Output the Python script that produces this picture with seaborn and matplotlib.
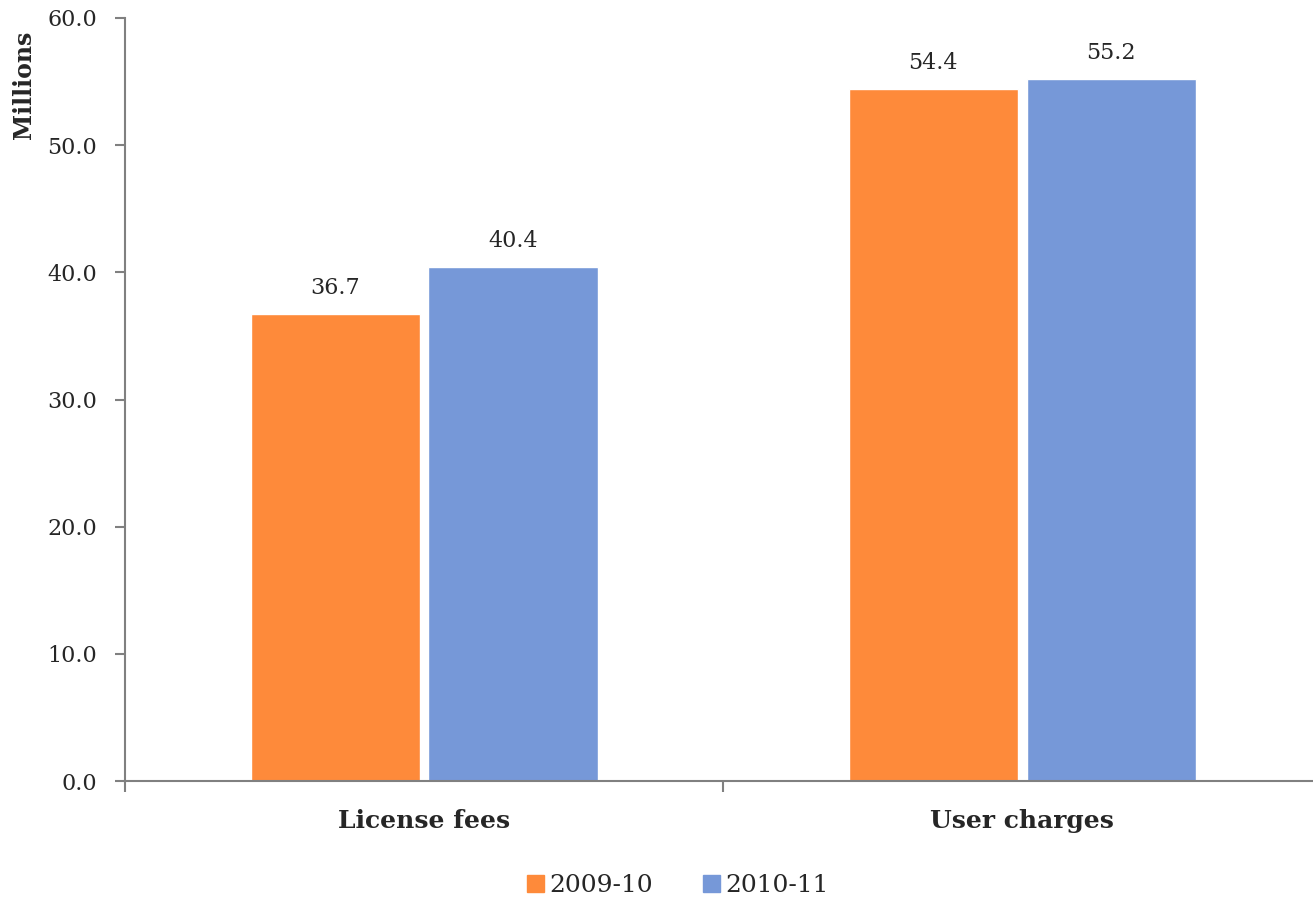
import matplotlib
matplotlib.use('Agg')
from matplotlib import pyplot as plt
from matplotlib.ticker import FixedLocator, FormatStrFormatter
import seaborn as sns
import pandas as pd

# 数据
categories = ['License fees', 'User charges']
years = ['2009-10', '2010-11']
values_0910 = [36.7, 54.4]
values_1011 = [40.4, 55.2]
colors = ['#FE8A3A', '#7698D8']

# 组装长表
df = pd.DataFrame({
    'category': categories * 2,
    'year': [years[0]] * 2 + [years[1]] * 2,
    'value': values_0910 + values_1011,
})

sns.set_theme(style='white')
plt.rcParams['font.family'] = ['DejaVu Serif']

fig = plt.figure(figsize=(13.13, 9), dpi=100)
ax = fig.add_axes([0.0952, 0.1322, 0.911, 0.8478])

sns.barplot(data=df, x='category', y='value', hue='year', palette=colors,
            width=0.595, gap=0.05, ax=ax, legend=False, saturation=1)

# 数值标签
for cont in ax.containers:
    ax.bar_label(cont, fmt='%.1f', padding=11, fontsize=16)

ax.set_xlim(-0.5, 1.5)
ax.set_ylim(0, 60)
ax.set_yticks(range(0, 61, 10))
ax.yaxis.set_major_formatter(FormatStrFormatter('%.1f'))
ax.tick_params(axis='y', labelsize=16, length=7, width=1.5, color='#808080',
               direction='out', left=True, pad=13)
ax.tick_params(axis='x', which='major', length=0, labelsize=18, pad=20)
ax.xaxis.set_minor_locator(FixedLocator([-0.5, 0.5, 1.5]))
ax.tick_params(axis='x', which='minor', length=8, width=1.5, color='#808080',
               direction='out', bottom=True)
for lab in ax.get_xticklabels():
    lab.set_fontweight('bold')

ax.set_xlabel('')
ax.set_ylabel('Millions', fontsize=17, fontweight='bold')
ax.yaxis.set_label_coords(-0.074, 0.913)

for side in ['top', 'right']:
    ax.spines[side].set_visible(False)
for side in ['left', 'bottom']:
    ax.spines[side].set_color('#808080')
    ax.spines[side].set_linewidth(1.5)

# 图例
handles = [plt.Rectangle((0, 0), 1, 1, color=c) for c in colors]
fig.legend(handles, years, loc='center', bbox_to_anchor=(0.516, 0.016),
           ncol=2, frameon=False, fontsize=18, handlelength=0.7,
           handleheight=0.7, handletextpad=0.2, columnspacing=2.0)

fig.savefig('out.png', dpi=100)
